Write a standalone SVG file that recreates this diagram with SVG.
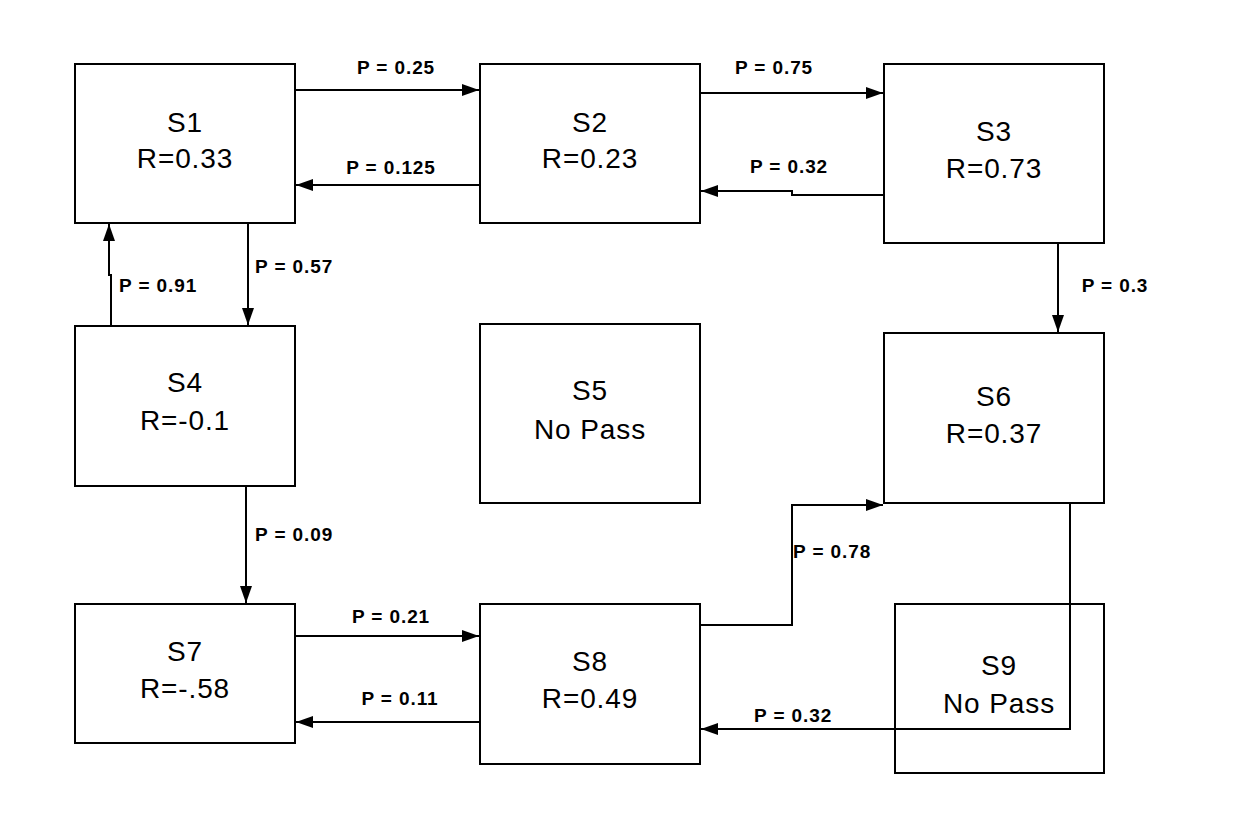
<svg xmlns="http://www.w3.org/2000/svg" width="1235" height="814" viewBox="0 0 1235 814">
<style>
.node rect{fill:#fff;stroke:#000;stroke-width:2}
.nt{font-family:"Liberation Sans",Arial,sans-serif;font-size:28px;letter-spacing:0.9px;text-anchor:middle;fill:#000}
.edge{fill:none;stroke:#000;stroke-width:2;marker-end:url(#ah)}
.lbl{font-family:"Liberation Sans",Arial,sans-serif;font-size:19px;font-weight:bold;letter-spacing:0.9px;fill:#000}
.c{text-anchor:middle}
</style>
<defs>
<marker id="ah" markerUnits="userSpaceOnUse" markerWidth="18" markerHeight="12" refX="17" refY="6" orient="auto">
<path d="M0,0 L17,6 L0,12 Z" fill="#000"/>
</marker>
</defs>
<rect width="1235" height="814" fill="#fff"/>
<g id="connectors">
<path class="edge" d="M295,90 H479"/>
<path class="edge" d="M480,185 H296"/>
<path class="edge" d="M700,93 H883"/>
<path class="edge" d="M884,195 H792 V191 H701"/>
<path class="edge" d="M1058,243 V332"/>
<path class="edge" d="M248,223 V325"/>
<path class="edge" d="M111,326 V275 H109 V224"/>
<path class="edge" d="M246,486 V603"/>
<path class="edge" d="M295,636 H479"/>
<path class="edge" d="M480,722 H296"/>
<path class="edge" d="M700,625 H792 V505 H883"/>
<path class="edge" d="M1070,503 V729 H701"/>
<text class="lbl c" x="396" y="74">P = 0.25</text>
<text class="lbl c" x="391" y="174">P = 0.125</text>
<text class="lbl c" x="774" y="74">P = 0.75</text>
<text class="lbl c" x="789" y="173">P = 0.32</text>
<text class="lbl c" x="1115" y="292">P = 0.3</text>
<text class="lbl" x="255" y="273">P = 0.57</text>
<text class="lbl" x="119" y="292">P = 0.91</text>
<text class="lbl" x="255" y="541">P = 0.09</text>
<text class="lbl c" x="391" y="623">P = 0.21</text>
<text class="lbl c" x="400" y="705">P = 0.11</text>
<text class="lbl" x="793" y="558">P = 0.78</text>
<text class="lbl" x="754" y="722">P = 0.32</text>
</g>
<g id="S1" class="node"><rect x="75" y="64" width="220" height="159"/><text class="nt" x="185" y="132">S1</text><text class="nt" x="185" y="168">R=0.33</text></g>
<g id="S2" class="node"><rect x="480" y="64" width="220" height="159"/><text class="nt" x="590" y="132">S2</text><text class="nt" x="590" y="168">R=0.23</text></g>
<g id="S3" class="node"><rect x="884" y="64" width="220" height="179"/><text class="nt" x="994" y="141">S3</text><text class="nt" x="994" y="178">R=0.73</text></g>
<g id="S4" class="node"><rect x="75" y="326" width="220" height="160"/><text class="nt" x="185" y="392">S4</text><text class="nt" x="185" y="430">R=-0.1</text></g>
<g id="S5" class="node"><rect x="480" y="324" width="220" height="179"/><text class="nt" x="590" y="400">S5</text><text class="nt" x="590" y="439">No Pass</text></g>
<g id="S6" class="node"><rect x="884" y="333" width="220" height="170"/><text class="nt" x="994" y="406">S6</text><text class="nt" x="994" y="443">R=0.37</text></g>
<g id="S7" class="node"><rect x="75" y="604" width="220" height="139"/><text class="nt" x="185" y="661">S7</text><text class="nt" x="185" y="698">R=-.58</text></g>
<g id="S8" class="node"><rect x="480" y="604" width="220" height="160"/><text class="nt" x="590" y="671">S8</text><text class="nt" x="590" y="708">R=0.49</text></g>
<g id="S9" class="node"><rect x="895" y="604" width="209" height="169" style="fill:none"/><text class="nt" x="999" y="675">S9</text><text class="nt" x="999" y="713">No Pass</text></g>
</svg>
